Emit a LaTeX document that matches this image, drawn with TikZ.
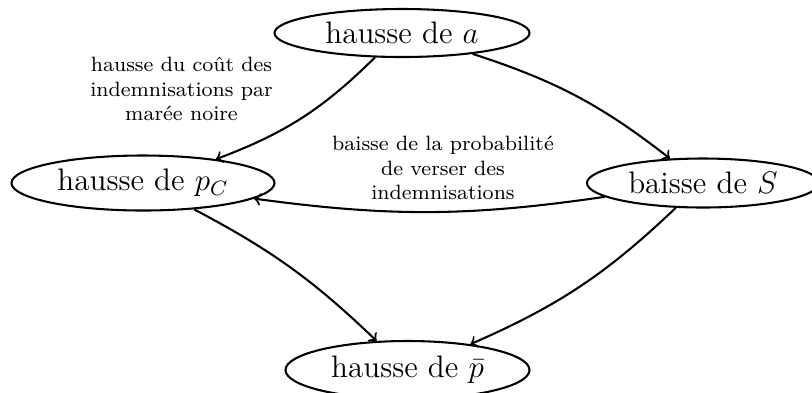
\documentclass[tikz,border=0pt]{standalone}
\usetikzlibrary{shapes.geometric}
\begin{document}
\begin{tikzpicture}[x=0.386pt, y=-0.386pt,
  ell/.style={draw, thick, ellipse, inner sep=0pt, font=\large},
  lab/.style={font=\footnotesize, align=center, inner sep=0pt},
  arr/.style={->, thick}]
\useasboundingbox (0,0) rectangle (812,392);
\clip (0,0) rectangle (812,392);
\node[ell, minimum width={255*0.386pt}, minimum height={48*0.386pt}] (A) at (402,33) {hausse de $a$};
\node[ell, minimum width={263*0.386pt}, minimum height={55*0.386pt}] (PC) at (143,183) {hausse de $p_C$};
\node[ell, minimum width={232*0.386pt}, minimum height={49*0.386pt}] (S) at (703,183) {baisse de $S$};
\node[ell, minimum width={244*0.386pt}, minimum height={58*0.386pt}] (PB) at (407.5,370) {hausse de $\bar{p}$};
\node[lab] (L1) at (181.5,89) {hausse du coût des\\indemnisations par\\marée noire};
\node[lab] (L2) at (443,168) {baisse de la probabilité\\de verser des\\indemnisations};
\draw[arr] (A) to[bend left=12] (PC);
\draw[arr] (A) to[bend left=10] (S);
\draw[arr] (S) to[bend left=8] (PC);
\draw[arr] (PC) to[bend left=8] (PB);
\draw[arr] (S) to[bend left=10] (PB);
\end{tikzpicture}
\end{document}
